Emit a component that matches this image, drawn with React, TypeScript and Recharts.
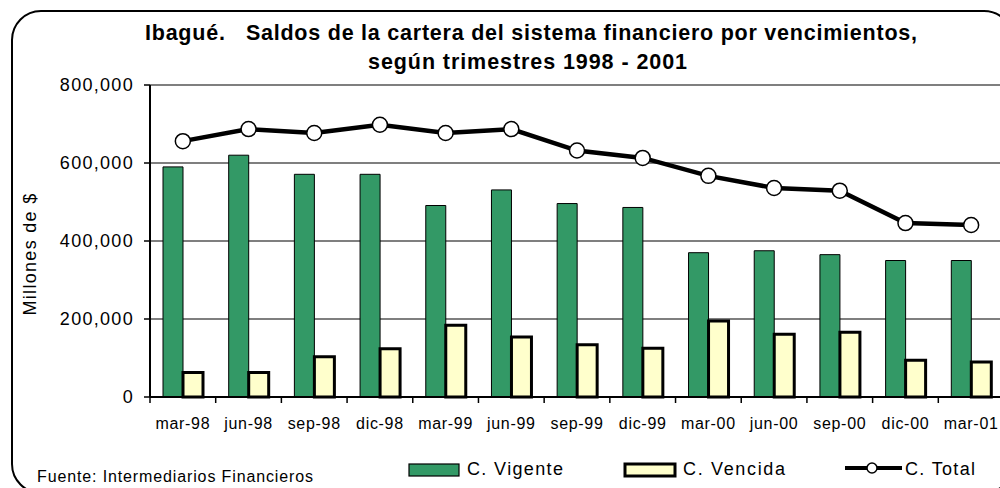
import React from 'react';
import { ComposedChart, Bar, Line, XAxis, YAxis, CartesianGrid } from 'recharts';

const categories = ['mar-98', 'jun-98', 'sep-98', 'dic-98', 'mar-99', 'jun-99', 'sep-99', 'dic-99', 'mar-00', 'jun-00', 'sep-00', 'dic-00', 'mar-01'];
const vigente = [590000, 620000, 571000, 571000, 491000, 531000, 496000, 486000, 370000, 375000, 365000, 350000, 350000];
const vencida = [63000, 63000, 103000, 124000, 184000, 154000, 134000, 125000, 195000, 161000, 166000, 94000, 90000];
const total = [656000, 687000, 677000, 698000, 677000, 687000, 632000, 613000, 567000, 536000, 529000, 446000, 441000];
const yTicks = [0, 200000, 400000, 600000, 800000];

const seriesNames = { vigente: 'C. Vigente', vencida: 'C. Vencida', total: 'C. Total' };
const GREEN = '#339966';
const YELLOW = '#FFFFCC';
const FONT = '"Liberation Sans", Arial, Helvetica, sans-serif';

const data = categories.map((c, i) => ({ cat: c, vigente: vigente[i], vencida: vencida[i], total: total[i] }));

const fmt = (v: number) => v.toLocaleString('en-US');

const XTick = (props: any) => {
  const { x, y, payload } = props;
  const off = payload && typeof payload.offset === 'number' && payload.offset > 0 ? payload.offset : 32.85;
  return (
    <g>
      <line x1={x - off} y1={y} x2={x - off} y2={y + 6} stroke="#000" strokeWidth={1.5} />
      <text x={x} y={y + 32} textAnchor="middle" fontSize={16} letterSpacing={0.7} fontFamily={FONT} fill="#000">
        {payload.value}
      </text>
    </g>
  );
};

export default function App() {
  return (
    <div style={{ position: 'fixed', left: 0, top: 0, width: 1000, height: 488, overflow: 'hidden', background: '#fff' }}>
      <div
        style={{
          position: 'absolute',
          left: 11,
          top: 10,
          width: 1003,
          height: 484,
          border: '2px solid #000',
          borderRadius: 30,
          boxSizing: 'border-box',
        }}
      />
      <div style={{ position: 'absolute', left: 0, top: 0 }}>
        <ComposedChart
          width={1020}
          height={488}
          data={data}
          margin={{ top: 85, right: 16, bottom: 51, left: 0 }}
          barGap={0}
        >
          <CartesianGrid vertical={false} stroke="#000" strokeWidth={1.2} />
          <XAxis
            dataKey="cat"
            interval={0}
            tickSize={0}
            tickMargin={0}
            height={40}
            axisLine={{ stroke: '#000', strokeWidth: 2 }}
            tickLine={false}
            tick={<XTick />}
          />
          <YAxis
            width={150}
            domain={[0, 800000]}
            ticks={yTicks}
            tickFormatter={fmt}
            tickSize={6}
            tickMargin={10}
            axisLine={{ stroke: '#000', strokeWidth: 2 }}
            tickLine={{ stroke: '#000', strokeWidth: 1.5 }}
            tick={{ fill: '#000', fontSize: 18, fontFamily: FONT, letterSpacing: 1.3 }}
          />
          <Bar dataKey="vigente" name={seriesNames.vigente} fill={GREEN} stroke="#000" strokeWidth={1} barSize={20} isAnimationActive={false} />
          <Bar dataKey="vencida" name={seriesNames.vencida} fill={YELLOW} stroke="#000" strokeWidth={3} barSize={20} isAnimationActive={false} />
          <Line
            dataKey="total"
            name={seriesNames.total}
            type="linear"
            stroke="#000"
            strokeWidth={4.5}
            dot={{ r: 7.5, fill: '#fff', stroke: '#000', strokeWidth: 1.5 }}
            isAnimationActive={false}
          />
        </ComposedChart>
      </div>
      <svg width={1000} height={488} style={{ position: 'absolute', left: 0, top: 0, pointerEvents: 'none' }}>
        <g fontFamily={FONT} fill="#000">
          <text x={145} y={40} fontSize={21.5} fontWeight="bold" textLength={772} lengthAdjust="spacing" style={{ whiteSpace: 'pre' }}>
            {'Ibagué.   Saldos de la cartera del sistema financiero por vencimientos,'}
          </text>
          <text x={368} y={69} fontSize={21.5} fontWeight="bold" textLength={319} lengthAdjust="spacing">
            según trimestres 1998 - 2001
          </text>
          <text transform="translate(36,254) rotate(-90)" textAnchor="middle" fontSize={18} letterSpacing={1.3}>
            Millones de $
          </text>
          <text x={37} y={482} fontSize={16} textLength={276} lengthAdjust="spacing">
            Fuente: Intermediarios Financieros
          </text>
          <rect x={409} y={464} width={50} height={12} fill={GREEN} stroke="#000" strokeWidth={1.2} />
          <text x={467} y={475} fontSize={18} textLength={96} lengthAdjust="spacing">{seriesNames.vigente}</text>
          <rect x={625} y={464} width={50} height={12} fill={YELLOW} stroke="#000" strokeWidth={3} />
          <text x={683} y={475} fontSize={18} textLength={102} lengthAdjust="spacing">{seriesNames.vencida}</text>
          <line x1={845} y1={468} x2={902} y2={468} stroke="#000" strokeWidth={4} />
          <circle cx={872} cy={468} r={5} fill="#fff" stroke="#000" strokeWidth={1.5} />
          <text x={905} y={475} fontSize={18} textLength={70} lengthAdjust="spacing">{seriesNames.total}</text>
        </g>
      </svg>
    </div>
  );
}
